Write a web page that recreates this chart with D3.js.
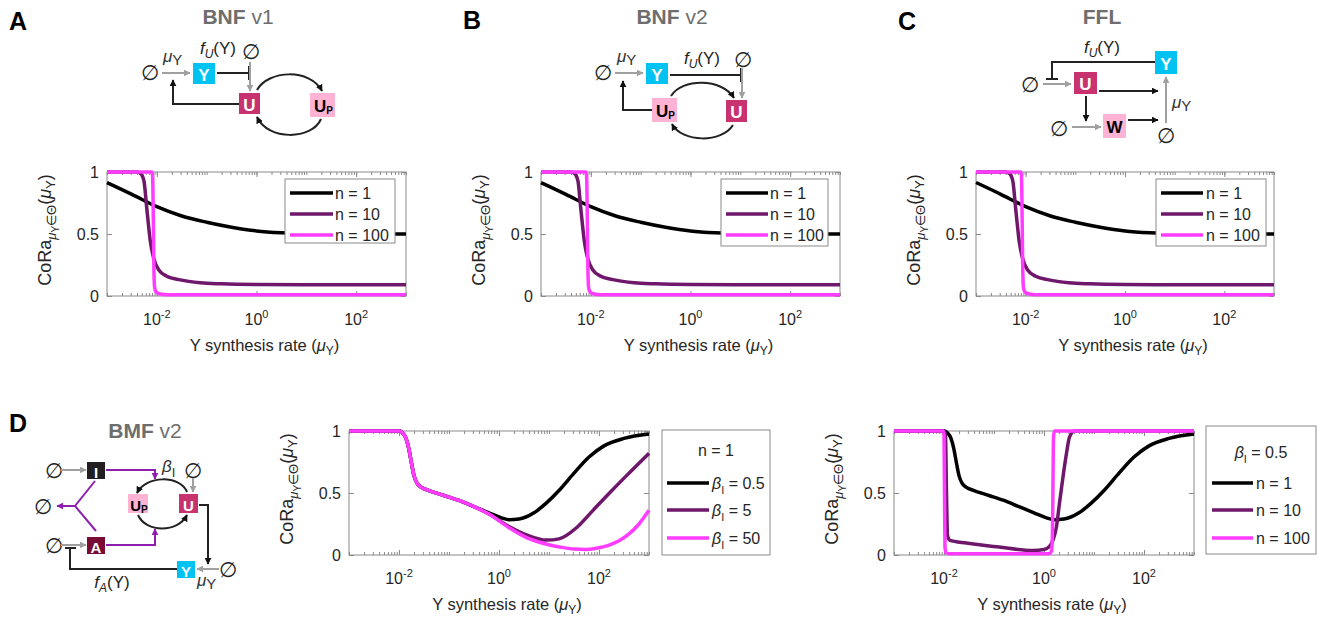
<!DOCTYPE html>
<html>
<head>
<meta charset="utf-8">
<script src="https://cdn.jsdelivr.net/npm/d3@7"></script>
<style>
  body { margin: 0; background: #fff; }
  svg text { font-family: "Liberation Sans", Arial, sans-serif; }
</style>
</head>
<body>
<svg id="fig" width="1318" height="618"></svg>
<script>
// --- Data (x values are log10 of the Y synthesis rate) ---
const xTickExps = [-2, 0, 2];
const yTicks = [0, 0.5, 1];
const topLegend = ["n = 1", "n = 10", "n = 100"];
const betaLegend = ["0.5", "5", "50"];

// BNF v1, BNF v2 and FFL give the same three curves
const topN1LogMu = [-3, -2.5, -2, -1.5, -1, -0.5, 0, 0.5, 1, 2, 3];
const topN1CoRa = [0.915, 0.82, 0.72, 0.645, 0.595, 0.555, 0.525, 0.51, 0.503, 0.5, 0.5];
const topN10LogMu = [-3, -2.4, -2.33, -2.26, -2.2, -2.13, -2.06, -1.96, -1.8, -1.53, -1.13, -0.7, 0, 1, 3];
const topN10CoRa = [1, 1, 0.99, 0.93, 0.7, 0.44, 0.3, 0.21, 0.16, 0.13, 0.107, 0.098, 0.092, 0.09, 0.09];
const topN100LogMu = [-3, -2.1, -2.085, -2.07, -2.06, -2.045, -2.02, -1.95, -1.8, 3];
const topN100CoRa = [1, 1, 0.97, 0.6, 0.25, 0.07, 0.035, 0.018, 0.01, 0.01];

// BMF v2, n = 1, beta_I = 0.5 / 5 / 50
const bmfB05LogMu = [-3, -2, -1.93, -1.86, -1.8, -1.75, -1.7, -1.64, -1.55, -1.4, -1.1, -0.8, -0.5, -0.2, 0.05, 0.2, 0.4, 0.7, 0.95, 1.2, 1.5, 1.8, 2.1, 2.5, 3];
const bmfB05CoRa = [1, 1, 0.985, 0.94, 0.85, 0.74, 0.64, 0.58, 0.545, 0.52, 0.48, 0.44, 0.39, 0.34, 0.3, 0.285, 0.29, 0.34, 0.42, 0.52, 0.66, 0.79, 0.88, 0.94, 0.975];
const bmfB5LogMu = [-3, -2, -1.93, -1.86, -1.8, -1.75, -1.7, -1.64, -1.55, -1.4, -1.1, -0.8, -0.5, -0.2, 0.2, 0.55, 0.95, 1.2, 1.55, 1.88, 2.21, 2.55, 3];
const bmfB5CoRa = [1, 1, 0.985, 0.94, 0.85, 0.74, 0.64, 0.58, 0.545, 0.52, 0.48, 0.44, 0.39, 0.33, 0.23, 0.163, 0.12, 0.13, 0.22, 0.36, 0.5, 0.64, 0.82];
const bmfB50LogMu = [-3, -2, -1.93, -1.86, -1.8, -1.75, -1.7, -1.64, -1.55, -1.4, -1.1, -0.8, -0.5, -0.2, 0.2, 0.55, 0.88, 1.21, 1.5, 1.75, 2.0, 2.2, 2.4, 2.6, 2.8, 3];
const bmfB50CoRa = [1, 1, 0.985, 0.94, 0.85, 0.74, 0.64, 0.58, 0.545, 0.52, 0.48, 0.44, 0.39, 0.33, 0.22, 0.14, 0.095, 0.065, 0.048, 0.045, 0.058, 0.08, 0.115, 0.17, 0.25, 0.36];

// BMF v2, beta_I = 0.5, n = 10 / 100 (n = 1 is bmfB05 above)
const bmfN10LogMu = [-3, -2, -1.97, -1.95, -1.93, -1.89, -1.55, -0.9, -0.22, 0, 0.11, 0.18, 0.25, 0.31, 0.38, 0.45, 0.51, 0.61, 3];
const bmfN10CoRa = [1, 1, 0.96, 0.5, 0.16, 0.12, 0.096, 0.064, 0.037, 0.045, 0.07, 0.12, 0.23, 0.42, 0.63, 0.82, 0.95, 1, 1];
const bmfN100LogMu = [-3, -2.02, -2, -1.99, -1.98, -1.96, -1.9, 0.1, 0.15, 0.17, 0.18, 0.19, 0.21, 3];
const bmfN100CoRa = [1, 1, 0.97, 0.5, 0.06, 0.02, 0.01, 0.01, 0.03, 0.2, 0.6, 0.95, 1, 1];

// --- Styles ---
const black = "#000000", purple = "#6e176b", magenta = "#ff3cff";
const axisColor = "#8a8a8a", textColor = "#262626";
const cyan = "#00c3f2", uRed = "#c8326e", pink = "#ffb3d4";
const gray = "#a0a0a0", arrowPurple = "#8e1fae", dark = "#222";

const svg = d3.select("#fig");
const defs = svg.append("defs");
[["ah-k", "#111"], ["ah-g", gray], ["ah-p", arrowPurple]].forEach(([id, c]) => {
  defs.append("marker")
    .attr("id", id)
    .attr("viewBox", "0 0 10 10")
    .attr("refX", 9).attr("refY", 5)
    .attr("markerWidth", 7).attr("markerHeight", 7)
    .attr("markerUnits", "userSpaceOnUse")
    .attr("orient", "auto")
    .append("path").attr("d", "M0,0 L10,5 L0,10 z").attr("fill", c);
});

const pairs = (xs, ys) => xs.map((v, i) => [v, ys[i]]);

// --- Plot panels ---
function drawPlot(p) {
  const g = svg.append("g");
  const x = d3.scaleLog().domain([1e-3, 1e3]).range([p.left, p.left + p.width]);
  const y = d3.scaleLinear().domain([0, 1]).range([p.top + p.height, p.top]);
  const bottom = p.top + p.height, right = p.left + p.width;
  const major = xTickExps.map(e => Math.pow(10, e));

  const styleAxis = a => {
    a.select(".domain").remove();
    a.selectAll("line").attr("stroke", axisColor);
  };

  // minor + major ticks, bottom and top, pointing inward
  g.append("g").attr("transform", `translate(0,${bottom})`)
    .call(d3.axisBottom(x).tickValues(x.ticks()).tickSizeInner(-3).tickSizeOuter(0).tickFormat(""))
    .call(styleAxis);
  g.append("g").attr("transform", `translate(0,${p.top})`)
    .call(d3.axisTop(x).tickValues(x.ticks()).tickSizeInner(-3).tickSizeOuter(0).tickFormat(""))
    .call(styleAxis);
  g.append("g").attr("transform", `translate(0,${bottom})`)
    .call(d3.axisBottom(x).tickValues(major).tickSizeInner(-5).tickSizeOuter(0).tickFormat(""))
    .call(styleAxis);
  g.append("g").attr("transform", `translate(0,${p.top})`)
    .call(d3.axisTop(x).tickValues(major).tickSizeInner(-5).tickSizeOuter(0).tickFormat(""))
    .call(styleAxis);

  const yAx = g.append("g").attr("transform", `translate(${p.left},0)`)
    .call(d3.axisLeft(y).tickValues(yTicks).tickSizeInner(-5).tickSizeOuter(0)
      .tickPadding(8).tickFormat(d => String(d)))
    .call(styleAxis);
  yAx.selectAll("text").attr("font-size", 16).attr("fill", textColor)
    .attr("font-family", "Liberation Sans, Arial, sans-serif");
  g.append("g").attr("transform", `translate(${right},0)`)
    .call(d3.axisRight(y).tickValues(yTicks).tickSizeInner(-5).tickSizeOuter(0).tickFormat(""))
    .call(styleAxis);

  g.append("rect")
    .attr("x", p.left).attr("y", p.top)
    .attr("width", p.width).attr("height", p.height)
    .attr("fill", "none").attr("stroke", axisColor);

  // x tick labels 10^k
  xTickExps.forEach(e => {
    const t = g.append("text")
      .attr("x", x(Math.pow(10, e))).attr("y", bottom + 29)
      .attr("text-anchor", "middle").attr("font-size", 16).attr("fill", textColor);
    t.append("tspan").text("10");
    t.append("tspan").attr("font-size", 11).attr("dy", -7).text(e);
  });

  // curves
  const line = d3.line()
    .x(d => x(Math.pow(10, d[0])))
    .y(d => y(d[1]))
    .curve(d3.curveMonotoneX);
  p.series.forEach(s => {
    g.append("path")
      .datum(pairs(s.logMu, s.coRa))
      .attr("fill", "none")
      .attr("stroke", s.color)
      .attr("stroke-width", 3.5)
      .attr("d", line);
  });

  // axis labels
  const xl = g.append("text")
    .attr("x", p.left + p.width / 2 + 8).attr("y", bottom + 55)
    .attr("text-anchor", "middle").attr("font-size", 16.5).attr("fill", textColor);
  xl.append("tspan").text("Y synthesis rate (");
  xl.append("tspan").attr("font-style", "italic").text("μ");
  xl.append("tspan").attr("font-size", 12).attr("dy", 4).text("Y");
  xl.append("tspan").attr("dy", -4).text(")");

  const yl = g.append("text")
    .attr("transform", `translate(${p.left - 56},${p.top + p.height / 2 - 4}) rotate(-90)`)
    .attr("text-anchor", "middle").attr("font-size", 18).attr("fill", textColor);
  yl.append("tspan").text("CoRa");
  yl.append("tspan").attr("font-size", 13).attr("font-style", "italic").attr("dy", 5).text("μ");
  yl.append("tspan").attr("font-size", 10).attr("dy", 3).text("Y");
  yl.append("tspan").attr("font-size", 13).attr("dy", -3).text("∈Θ");
  yl.append("tspan").attr("dy", -5).text("(");
  yl.append("tspan").attr("font-style", "italic").text("μ");
  yl.append("tspan").attr("font-size", 13).attr("dy", 4).text("Y");
  yl.append("tspan").attr("dy", -4).text(")");

  // legend
  const L = p.legend;
  g.append("rect")
    .attr("x", L.x).attr("y", L.y).attr("width", L.w).attr("height", L.h)
    .attr("fill", "#fff").attr("stroke", axisColor);
  if (L.title) {
    const t = g.append("text").attr("x", L.x + L.w / 2).attr("y", L.titleY)
      .attr("text-anchor", "middle").attr("font-size", 16).attr("fill", textColor);
    L.title(t);
  }
  p.series.forEach((s, i) => {
    const ry = L.rows[i];
    g.append("line")
      .attr("x1", L.x + L.l0).attr("x2", L.x + L.l1)
      .attr("y1", ry).attr("y2", ry)
      .attr("stroke", s.color).attr("stroke-width", 3.5);
    const t = g.append("text").attr("x", L.x + L.tx).attr("y", ry + 6)
      .attr("font-size", 16).attr("fill", textColor);
    L.label(t, i);
  });
}

const nLabel = (t, i) => t.text(topLegend[i]);
const betaText = (t, v) => {
  t.append("tspan").attr("font-style", "italic").text("β");
  t.append("tspan").attr("font-size", 11).attr("dy", 5).text("I");
  t.append("tspan").attr("dy", -5).text(" = " + v);
};

const topSeries = [
  { logMu: topN1LogMu, coRa: topN1CoRa, color: black },
  { logMu: topN10LogMu, coRa: topN10CoRa, color: purple },
  { logMu: topN100LogMu, coRa: topN100CoRa, color: magenta }
];
const topRows = [193, 214, 235];

drawPlot({ left: 107, top: 172, width: 299, height: 124, series: topSeries,
  legend: { x: 285, y: 179, w: 110, h: 64, rows: topRows, l0: 5, l1: 48, tx: 50, label: nLabel } });
drawPlot({ left: 541, top: 172, width: 299, height: 124, series: topSeries,
  legend: { x: 721, y: 179, w: 107, h: 67, rows: topRows, l0: 5, l1: 47, tx: 49, label: nLabel } });
drawPlot({ left: 976, top: 172, width: 298, height: 124, series: topSeries,
  legend: { x: 1156, y: 179, w: 110, h: 67, rows: topRows, l0: 5, l1: 47, tx: 50, label: nLabel } });

drawPlot({ left: 349, top: 431, width: 300, height: 124,
  series: [
    { logMu: bmfB05LogMu, coRa: bmfB05CoRa, color: black },
    { logMu: bmfB5LogMu, coRa: bmfB5CoRa, color: purple },
    { logMu: bmfB50LogMu, coRa: bmfB50CoRa, color: magenta }
  ],
  legend: { x: 662, y: 430, w: 108, h: 125, rows: [483, 510, 538], l0: 5, l1: 47, tx: 50,
    titleY: 456, title: t => t.text("n = 1"),
    label: (t, i) => betaText(t, betaLegend[i]) } });

drawPlot({ left: 894, top: 431, width: 300, height: 124,
  series: [
    { logMu: bmfB05LogMu, coRa: bmfB05CoRa, color: black },
    { logMu: bmfN10LogMu, coRa: bmfN10CoRa, color: purple },
    { logMu: bmfN100LogMu, coRa: bmfN100CoRa, color: magenta }
  ],
  legend: { x: 1206, y: 426, w: 110, h: 128, rows: [483, 510, 538], l0: 6, l1: 47, tx: 50,
    titleY: 458, title: t => betaText(t, "0.5"), label: nLabel } });

// --- Panel letters and titles ---
const dia = svg.append("g");
const dfont = "DejaVu Sans, sans-serif";
[["A", 9, 30], ["B", 463, 29], ["C", 898, 30], ["D", 9, 432]].forEach(([s, x, y]) => {
  dia.append("text").attr("x", x).attr("y", y).attr("font-family", dfont)
    .attr("font-weight", "bold").attr("font-size", 25).attr("fill", "#000").text(s);
});
[["BNF", " v1", 238, 24], ["BNF", " v2", 672, 24], ["FFL", "", 1102, 24], ["BMF", " v2", 145, 438]].forEach(([b, v, x, y]) => {
  const t = dia.append("text").attr("x", x).attr("y", y).attr("font-family", dfont)
    .attr("text-anchor", "middle").attr("font-size", 21).attr("fill", "#6e6e6e");
  t.append("tspan").attr("font-weight", "bold").text(b);
  if (v) t.append("tspan").text(v);
});

// --- Network diagram helpers ---
function box(x, y, w, h, fill, label, color, sub, fs) {
  dia.append("rect").attr("x", x).attr("y", y).attr("width", w).attr("height", h).attr("fill", fill);
  const t = dia.append("text")
    .attr("x", x + w / 2 + (sub ? 1 : 0)).attr("y", y + h / 2 + 1)
    .attr("text-anchor", "middle").attr("dominant-baseline", "central")
    .attr("font-family", dfont).attr("font-weight", "bold")
    .attr("font-size", fs || 17).attr("fill", color);
  t.append("tspan").text(label);
  if (sub) t.append("tspan").attr("font-size", 10).attr("dy", 4).text(sub);
}
function empty(x, y) {
  dia.append("text").attr("x", x).attr("y", y)
    .attr("text-anchor", "middle").attr("dominant-baseline", "central")
    .attr("font-family", dfont).attr("font-size", 21).attr("fill", dark).text("∅");
}
function link(d, color, marker) {
  const pth = dia.append("path").attr("d", d).attr("fill", "none")
    .attr("stroke", color).attr("stroke-width", 2);
  if (marker) pth.attr("marker-end", `url(#${marker})`);
}
function muY(x, y) {
  const t = dia.append("text").attr("x", x).attr("y", y).attr("font-family", dfont)
    .attr("font-size", 17).attr("fill", "#333");
  t.append("tspan").attr("font-style", "italic").text("μ");
  t.append("tspan").attr("font-size", 15).attr("dy", 3).text("Y");
}
function fOf(x, y, sub) {
  const t = dia.append("text").attr("x", x).attr("y", y).attr("text-anchor", "middle")
    .attr("font-family", dfont).attr("font-size", 17).attr("fill", dark);
  t.append("tspan").attr("font-style", "italic").text("f");
  t.append("tspan").attr("font-style", "italic").attr("font-size", 12).attr("dy", 4).text(sub);
  t.append("tspan").attr("dy", -4).text("(Y)");
}

// A: BNF v1
empty(150, 72);
muY(163, 62);
link("M162,73 H190", gray, "ah-g");
box(193, 63, 22, 21, cyan, "Y", "#fff");
link("M217,73 H249", dark);
link("M249,66 V80", dark);
fOf(218, 54, "U");
empty(251, 51);
link("M250,62 V91", gray, "ah-g");
box(239, 93, 21, 21, uRed, "U", "#fff");
link("M239,104 H173 V80", dark, "ah-k");
link("M257,90 C268,70 310,68 322,91", dark, "ah-k");
box(310, 93, 25, 24, pink, "U", "#000", "P");
link("M321,119 C312,140 268,141 257,117", dark, "ah-k");

// B: BNF v2
empty(603, 72);
muY(617, 62);
link("M615,73 H643", gray, "ah-g");
box(646, 63, 22, 21, cyan, "Y", "#fff");
link("M670,75 H741", dark);
link("M741,68 V82", dark);
fOf(702, 64, "U");
empty(743, 59);
link("M742,68 V98", gray, "ah-g");
box(726, 100, 21, 22, uRed, "U", "#fff");
box(652, 98, 25, 24, pink, "U", "#000", "P");
link("M652,110 H623 V81", dark, "ah-k");
link("M671,96 C682,78 722,78 734,98", dark, "ah-k");
link("M733,125 C722,143 682,143 672,124", dark, "ah-k");

// C: FFL
box(1155, 51, 22, 23, cyan, "Y", "#fff");
link("M1155,62 H1052 V79", dark);
link("M1046,79 H1058", dark);
fOf(1102, 53, "U");
empty(1030, 84);
link("M1043,84 H1071", gray, "ah-g");
box(1074, 72, 23, 22, uRed, "U", "#fff");
link("M1099,91 H1158", dark, "ah-k");
link("M1086,96 V121", dark, "ah-k");
empty(1059, 128);
link("M1072,127 H1101", gray, "ah-g");
box(1103, 114, 23, 24, pink, "W", "#000");
link("M1128,120 H1158", dark, "ah-k");
empty(1166, 135);
link("M1166,123 V77", gray, "ah-g");
muY(1172, 108);

// D: BMF v2
empty(54, 470);
link("M61,470 H86", gray, "ah-g");
box(87, 462, 18, 17, "#231f20", "I", "#fff", null, 15);
link("M106,470 H155 V479", arrowPurple, "ah-p");
const beta = dia.append("text").attr("x", 162).attr("y", 472).attr("font-family", dfont)
  .attr("font-size", 17).attr("fill", "#333");
beta.append("tspan").attr("font-style", "italic").text("β");
beta.append("tspan").attr("font-size", 13).attr("dy", 5).text("I");
empty(193, 470);
link("M193,478 V492", gray, "ah-g");
box(179, 494, 19, 19, uRed, "U", "#fff", null, 15);
box(128, 494, 20, 19, pink, "U", "#000", "P", 15);
link("M187,492 C180,475 146,475 137,493", dark, "ah-k");
link("M138,515 C146,533 178,533 187,515", dark, "ah-k");
link("M199,505 H208 V564", dark, "ah-k");
link("M95,481 L75,506 L96,531", arrowPurple);
link("M75,506 H57", arrowPurple, "ah-p");
empty(43, 506);
empty(54, 545);
link("M61,545 H86", gray, "ah-g");
box(87, 537, 18, 17, "#7a0b33", "A", "#fff", null, 15);
link("M106,545 H155 V529", arrowPurple, "ah-p");
box(177, 561, 18, 17, cyan, "Y", "#fff", null, 15);
empty(228, 569);
link("M219,569 H197", gray, "ah-g");
muY(197, 586);
link("M177,569 H70 V548", dark);
link("M65,548 H76", dark);
fOf(112, 588, "A");
</script>
</body>
</html>
